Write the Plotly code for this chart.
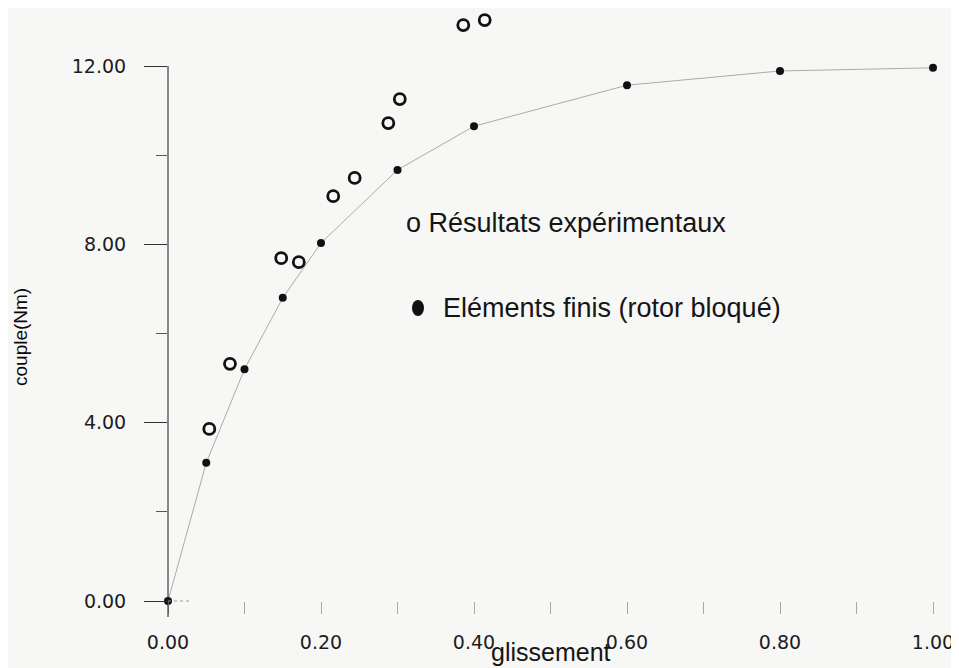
import plotly.graph_objects as go

# Data
exp_x = [0.054, 0.081, 0.148, 0.171, 0.216, 0.244, 0.288, 0.303, 0.386, 0.414]
exp_y = [3.86, 5.32, 7.69, 7.60, 9.08, 9.49, 10.72, 11.26, 12.92, 13.03]

fe_x = [0.00, 0.05, 0.10, 0.15, 0.20, 0.30, 0.40, 0.60, 0.80, 1.00]
fe_y = [0.00, 3.10, 5.20, 6.80, 8.03, 9.67, 10.65, 11.57, 11.89, 11.96]

x_tickvals = [0.0, 0.1, 0.2, 0.3, 0.4, 0.5, 0.6, 0.7, 0.8, 0.9, 1.0]
x_ticktext = ["0.00", "", "0.20", "", "0.40", "", "0.60", "", "0.80", "", "1.00"]
y_tickvals = [0, 4, 8, 12]
y_ticktext = ["0.00", "4.00", "8.00", "12.00"]
y_minorvals = [2, 6, 10]
y_axis_top = 12

label_exp = "o Résultats expérimentaux"
label_fe = "Eléments finis (rotor bloqué)"
x_title = "glissement"
y_title = "couple(Nm)"

# page body margin offset (figure starts 8px in from the window corner)
O = 8
W, H = 959 - O, 668 - O
L, R, T, B = 168 - O, 26, 0, 67
PW = W - L - R
PH = H - T - B
YSCALE = 44.58  # pixels per unit on the reference
YMAX = PH / YSCALE


def px(x):
    return (x - O - L) / PW


def py(y):
    return (T + PH - (y - O)) / PH


TXT = "Liberation Sans, Arial, sans-serif"
TICK = "DejaVu Sans, Verdana, sans-serif"

fig = go.Figure()

fig.add_trace(go.Scatter(
    x=fe_x, y=fe_y, mode="lines+markers",
    line=dict(color="#ababab", width=1),
    marker=dict(symbol="circle", size=8, color="#111111"),
    cliponaxis=False, showlegend=False, name=label_fe,
))

fig.add_trace(go.Scatter(
    x=exp_x, y=exp_y, mode="markers",
    marker=dict(symbol="circle-open", size=11, color="#111111",
                line=dict(width=2.8, color="#111111")),
    cliponaxis=False, showlegend=False, name=label_exp,
))

shapes = [
    # y-axis line from just below zero up to 12
    dict(type="line", xref="paper", yref="paper", x0=0, x1=0,
         y0=-16 / PH, y1=y_axis_top / YMAX,
         line=dict(color="#2a2a2a", width=1.1)),
    # short dotted stub right of origin
    dict(type="line", xref="paper", yref="paper", x0=0, x1=22 / PW,
         y0=0, y1=0, line=dict(color="#9a9a9a", width=1, dash="dot")),
    # legend filled marker
    dict(type="circle", xref="paper", yref="paper",
         x0=px(412), x1=px(424), y0=py(316), y1=py(300),
         fillcolor="#111111", line=dict(color="#111111", width=0)),
]

annotations = [
    dict(text=label_exp, xref="paper", yref="paper", x=px(404), y=py(223),
         xanchor="left", yanchor="middle", showarrow=False,
         font=dict(family=TXT, size=27, color="#151515")),
    dict(text=label_fe, xref="paper", yref="paper", x=px(441), y=py(308),
         xanchor="left", yanchor="middle", showarrow=False,
         font=dict(family=TXT, size=27, color="#151515")),
    dict(text=x_title, xref="paper", yref="paper", x=px(551), y=py(652),
         xanchor="center", yanchor="middle", showarrow=False,
         font=dict(family=TXT, size=25, color="#151515")),
    dict(text=y_title, xref="paper", yref="paper", x=px(20), y=py(337),
         xanchor="center", yanchor="middle", showarrow=False, textangle=-90,
         font=dict(family=TXT, size=19, color="#0a0a0a")),
]

fig.update_layout(
    width=W, height=H, autosize=False,
    margin=dict(l=L, r=R, t=T, b=B, pad=0),
    paper_bgcolor="#f7f7f6", plot_bgcolor="#f7f7f6",
    shapes=shapes, annotations=annotations, showlegend=False,
    xaxis=dict(
        range=[0, 1], showline=False, showgrid=False, zeroline=False,
        ticks="outside", ticklen=12, tickwidth=1, tickcolor="#a8a8a8",
        tickvals=x_tickvals, ticktext=x_ticktext,
        tickfont=dict(family=TICK, size=19, color="#1c1c1c"),
        ticklabelstandoff=12,
    ),
    yaxis=dict(
        range=[0, YMAX], showline=False, showgrid=False, zeroline=False,
        ticks="outside", ticklen=23, tickwidth=1.2, tickcolor="#333333",
        tickvals=y_tickvals, ticktext=y_ticktext,
        tickfont=dict(family=TICK, size=19, color="#1c1c1c"),
        ticklabelstandoff=14,
        minor=dict(tickvals=y_minorvals, ticks="outside", ticklen=11,
                   tickwidth=1, tickcolor="#555555"),
    ),
)

fig.write_html("out.html")
